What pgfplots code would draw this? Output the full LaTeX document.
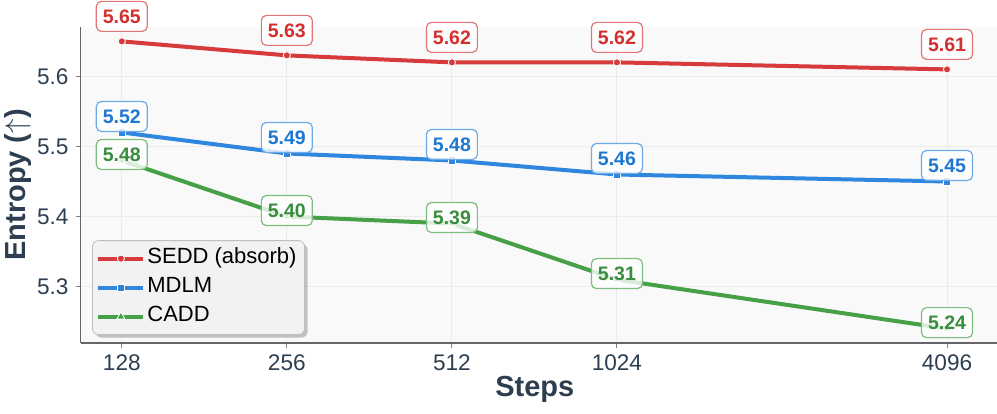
\documentclass[border=0pt]{standalone}
\usepackage{pgfplots}
\pgfplotsset{compat=1.18}
\usepackage{fontspec}
\setmainfont{Liberation Sans}
\usetikzlibrary{calc,shadows}
\definecolor{cred}{HTML}{D63A3A}
\definecolor{cblue}{HTML}{2E86DE}
\definecolor{cgreen}{HTML}{45A046}
\definecolor{tred}{HTML}{D32F2F}
\definecolor{tblue}{HTML}{1E78D2}
\definecolor{tgreen}{HTML}{388E3C}
\definecolor{ctext}{HTML}{2C3E50}

\makeatletter
\tikzset{no preaction/.code={\let\tikz@preactions\pgfutil@empty}}
\makeatother

\tikzset{
  lbl/.style={anchor=center, draw=#1!70!white, fill=white, fill opacity=0.8,
    text opacity=1, rounded corners=2.5pt, line width=0.6pt,
    inner xsep=3.25pt, inner ysep=4pt, text height=7pt, text depth=0pt,
    font=\fontsize{9.75}{10}\selectfont\bfseries},
}

\begin{document}
\begin{tikzpicture}
\begin{axis}[
  scale only axis, width=458.25pt, height=158pt,
  xmode=log, log basis x=2,
  xmin=107.63, xmax=5053, ymin=5.2195, ymax=5.6705,
  xtick={128,256,512,1024,4096}, xticklabels={128,256,512,1024,4096},
  ytick={5.3,5.4,5.5,5.6},
  yticklabel={\pgfmathprintnumber[fixed,fixed zerofill,precision=1]{\tick}},
  /pgf/number format/assume math mode=true,
  axis x line*=bottom, axis y line*=left,
  axis line style={-, draw=black!60, line width=0.8pt},
  axis background/.style={fill=black!2.5},
  grid=major, major grid style={draw=black!8, line width=0.5pt},
  tick align=outside, major tick length=2.5pt,
  tick style={draw=black!50, line width=0.5pt},
  ticklabel style={font=\fontsize{11.3}{13}\selectfont, text=ctext},
  xlabel={Steps}, ylabel={Entropy ($\uparrow$)},
  every axis x label/.style={at={(axis description cs:0.5,0)}, anchor=base,
    yshift=-26.5pt, xshift=-2pt, font=\fontsize{14.5}{16}\selectfont\bfseries, text=ctext},
  every axis y label/.style={at={(axis description cs:-0.0605,0.5)},
    rotate=90, anchor=base, font=\fontsize{14.5}{16}\selectfont\bfseries, text=ctext},
  clip=false,
  legend style={at={(0.01255,0.0253)}, anchor=south west, fill=black!5,
    draw=black!25, rounded corners=3pt,
    drop shadow={shadow xshift=1.5pt, shadow yshift=-1.5pt, fill=black!45, opacity=0.5},
    font=\fontsize{11}{12}\selectfont, inner xsep=2pt, inner ysep=1.75pt,
    nodes={no preaction, text height=7.5pt, text depth=2.5pt, inner ysep=2.25pt},
    /tikz/every odd column/.append style={column sep=-1pt},
    /tikz/every even column/.append style={column sep=0pt}},
  legend cell align=left,
  legend image code/.code={\draw[no preaction,mark repeat=2,mark phase=2,#1]
    plot coordinates {(0pt,0pt) (11.25pt,0pt) (22.5pt,0pt)};},
]
\addplot[cred, line width=2pt, mark=*, mark size=1.8pt,
  mark options={draw=white, line width=0.4pt},
  nodes near coords={\pgfmathprintnumber[fixed,fixed zerofill,precision=2]{\pgfplotspointmeta}},
  every node near coord/.style={lbl=cred, text=tred, yshift=12.5pt}]
  coordinates {(128,5.65) (256,5.63) (512,5.62) (1024,5.62) (4096,5.61)};
\addlegendentry{SEDD (absorb)}
\addplot[cblue, line width=2pt, mark=square*, mark size=1.8pt,
  mark options={draw=white, line width=0.4pt},
  nodes near coords={\pgfmathprintnumber[fixed,fixed zerofill,precision=2]{\pgfplotspointmeta}},
  every node near coord/.style={lbl=cblue, text=tblue, yshift=8pt}]
  coordinates {(128,5.52) (256,5.49) (512,5.48) (1024,5.46) (4096,5.45)};
\addlegendentry{MDLM}
\addplot[cgreen, line width=2pt, mark=triangle*, mark size=2.3pt,
  mark options={draw=white, line width=0.4pt},
  nodes near coords={\pgfmathprintnumber[fixed,fixed zerofill,precision=2]{\pgfplotspointmeta}},
  every node near coord/.style={lbl=cgreen, text=tgreen, yshift=3pt}]
  coordinates {(128,5.48) (256,5.40) (512,5.39) (1024,5.31) (4096,5.24)};
\addlegendentry{CADD}
\coordinate (pa) at (rel axis cs:0,0);
\coordinate (pb) at (rel axis cs:1,1);
\end{axis}
\pgfresetboundingbox
\path[use as bounding box] ($(pa)+(-40.25pt,-35pt)$) rectangle ($(pb)+(0pt,13.5pt)$);
\end{tikzpicture}
\end{document}
